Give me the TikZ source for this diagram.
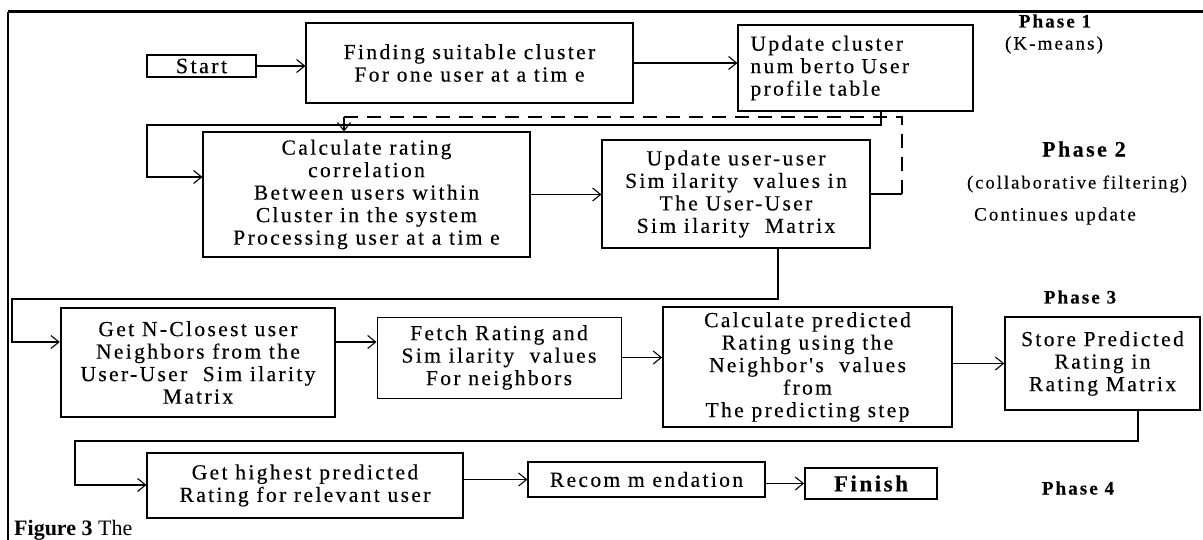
\documentclass[tikz,border=0pt]{standalone}
\usepackage{fontspec}
\setmainfont{Liberation Serif}
\newfontfamily\boxfont{Liberation Serif}[LetterSpace=11, FakeBold=0.3]
\usetikzlibrary{arrows.meta}

\tikzset{
  box/.style={draw, line width=1.1pt, align=center, inner sep=1pt,
    font=\boxfont\fontsize{21.5}{22.5}\selectfont},
  thickbox/.style={box, line width=1.8pt},
  flow/.style={-{Straight Barb[length=8pt,width=13pt]}, line width=1.1pt},
  loopline/.style={line width=1.1pt, dash pattern=on 14pt off 9pt},
  phase/.style={font=\boxfont\fontsize{19}{20}\selectfont\bfseries},
}

\begin{document}
\begin{tikzpicture}[x=1pt, y=-1pt]
  \useasboundingbox (0,0) rectangle (1203,540);
  \clip (0,0) rectangle (1203,540);

  % frame
  \draw[line width=3pt] (8,12) -- (1203,12);
  \draw[line width=1.6pt] (8,12) -- (8,540);

  % Phase 1
  \node[thickbox, minimum width=109pt, minimum height=22pt, inner sep=0pt,
    font=\boxfont\fontsize{22}{22}\selectfont] (start) at (201.5,66) {Start};
  \node[box, minimum width=327pt, minimum height=80pt] (find) at (469.5,63)
    {Finding suitable cluster\\For one user at a tim e};
  \node[box, align=left, minimum width=235pt, minimum height=86pt, text width=210pt] (upcl) at (855.5,68)
    {Update cluster\\num berto User\\profile table};
  \node[phase] (ph1) at (1055,21) {Phase 1};
  \node[phase, font=\boxfont\fontsize{19}{20}\selectfont] (km) at (1054,45) {(K-means)};

  % Phase 2
  \node[box, minimum width=327pt, minimum height=125pt] (calc) at (366.5,194.5)
    {Calculate rating\\correlation\\Between users within\\Cluster in the system\\Processing user at a tim e};
  \node[box, minimum width=268pt, minimum height=108pt] (upsim) at (736,194)
    {Update user-user\\Sim ilarity\ \ values in\\The User-User\\Sim ilarity\ \ Matrix};
  \node[phase, font=\boxfont\fontsize{22}{22}\selectfont\bfseries] (ph2) at (1084,149) {Phase 2};
  \node[phase, font=\boxfont\fontsize{18.5}{20}\selectfont] (cf) at (1077,184) {(collaborative filtering)};
  \node[phase, font=\boxfont\fontsize{19}{20}\selectfont] (cu) at (1055,216) {Continues update};

  % Phase 3
  \node[thickbox, line width=2.4pt, minimum width=274pt, minimum height=109pt] (getn) at (198,362.5)
    {Get N-Closest user\\Neighbors from the\\User-User\ \ Sim ilarity\\Matrix};
  \node[box, line width=0.9pt, minimum width=244pt, minimum height=81pt] (fetch) at (499,357.5)
    {Fetch Rating and\\Sim ilarity\ \ values\\For neighbors};
  \node[thickbox, minimum width=289pt, minimum height=120pt] (calpred) at (807.5,367)
    {Calculate predicted\\Rating using the\\Neighbor's\ \ values\\from\\The predicting step};
  \node[box, line width=1.5pt, minimum width=195pt, minimum height=93pt] (store) at (1102.5,363.5)
    {Store Predicted\\Rating in\\Rating Matrix};
  \node[phase] (ph3) at (1080,297) {Phase 3};

  % Phase 4
  \node[box, minimum width=316pt, minimum height=65pt] (gethigh) at (305,485.5)
    {Get highest predicted\\Rating for relevant user};
  \node[box, minimum width=237pt, minimum height=35pt] (recom) at (646.5,479.5) {Recom m endation};
  \node[thickbox, minimum width=132pt, minimum height=31pt, inner sep=0pt,
    font=\boxfont\fontsize{23}{24}\selectfont\bfseries] (finish) at (871,483.5) {Finish};
  \node[phase] (ph4) at (1078,488) {Phase 4};

  % bends
  \coordinate (b1) at (881,125);
  \coordinate (b2) at (147,177);
  \coordinate (d1) at (902,117);
  \coordinate (d2) at (344,117);
  \coordinate (b3) at (778,299);
  \coordinate (b4) at (12,342);
  \coordinate (b5) at (1138,441);
  \coordinate (b6) at (75,485);

  % connectors
  \draw[flow] (start) -- (start -| find.west);
  \draw[flow] (find) -- (find -| upcl.west);
  \draw[flow] (upcl.south -| b1) -- (b1) -| (b2) -- (b2 -| calc.west);
  \draw[flow] (calc) -- (calc -| upsim.west);
  \draw[line width=1.1pt] (upsim) -- (upsim -| d1);
  \draw[loopline] (upsim -| d1) -- (d1) -- (d2);
  \draw[flow] (d2) -- (d2 |- calc.north);
  \draw[flow] (upsim.south -| b3) -- (b3) -| (b4) -- (b4 -| getn.west);
  \draw[flow] (getn.east |- b4) -- (b4 -| fetch.west);
  \draw[flow] (fetch) -- (fetch -| calpred.west);
  \draw[flow] (calpred.east |- store) -- (store);
  \draw[flow] (store.south -| b5) -- (b5) -| (b6) -- (b6 -| gethigh.west);
  \draw[flow] (gethigh.east |- recom) -- (recom);
  \draw[flow] (recom.east |- finish) -- (finish);

  % caption
  \node[anchor=base west, inner sep=0pt, font=\fontsize{22}{24}\selectfont] (cap) at (14,535)
    {\textbf{Figure 3} The};
\end{tikzpicture}
\end{document}
